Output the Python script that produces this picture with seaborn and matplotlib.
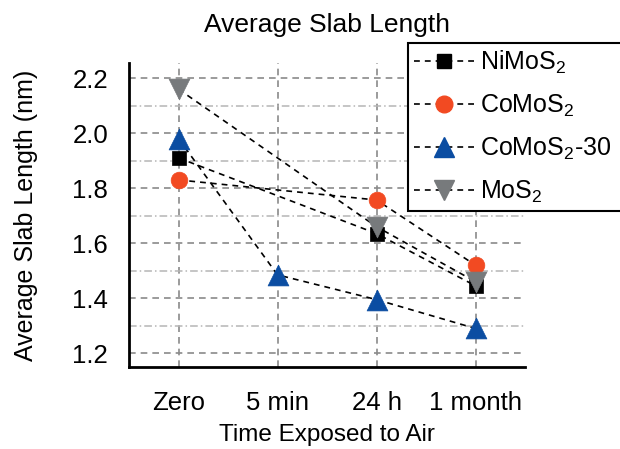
import numpy as np
import pandas as pd
import matplotlib
matplotlib.use("Agg")
import matplotlib.pyplot as plt
from matplotlib.lines import Line2D
from matplotlib.ticker import MultipleLocator
import seaborn as sns

# ---- data ----
categories = ["Zero", "5 min", "24 h", "1 month"]
series_names = ["NiMoS2", "CoMoS2", "CoMoS2-30", "MoS2"]
legend_labels = [r"$\mathregular{NiMoS_2}$", r"$\mathregular{CoMoS_2}$",
                 r"$\mathregular{CoMoS_2}$-30", r"$\mathregular{MoS_2}$"]
nimos2 = [1.91, np.nan, 1.635, 1.445]
comos2 = [1.83, np.nan, 1.757, 1.52]
comos2_30 = [1.98, 1.485, 1.395, 1.29]
mos2 = [2.16, np.nan, 1.66, 1.46]
colors = ["#000000", "#F24A22", "#0B4DA2", "#777A7C"]
markers = ["s", "o", "^", "v"]
msizes = [10.5, 12, 15, 15]

values = [nimos2, comos2, comos2_30, mos2]
rows = []
for name, vals in zip(series_names, values):
    for i, (cat, v) in enumerate(zip(categories, vals)):
        if not np.isnan(v):
            rows.append({"series": name, "time": cat, "pos": i, "length": v})
df = pd.DataFrame(rows)

sns.set_style("white")
plt.rcParams["font.family"] = ["Liberation Sans", "DejaVu Sans"]
plt.rcParams["mathtext.fontset"] = "custom"
plt.rcParams["mathtext.rm"] = "Liberation Sans"
plt.rcParams["text.color"] = "black"
plt.rcParams["axes.labelcolor"] = "black"
plt.rcParams["xtick.color"] = "black"
plt.rcParams["ytick.color"] = "black"

fig = plt.figure(figsize=(6.2, 4.49), dpi=100)
ax = fig.add_axes([129 / 620, 1 - 367 / 449, (525 - 129) / 620, (367 - 63) / 449])

# dashed black connecting lines
sns.lineplot(data=df, x="pos", y="length", units="series", estimator=None,
             color="black", linestyle=(0, (3.5, 3)), linewidth=1.2, ax=ax,
             sort=True, legend=False, zorder=3)

# colored markers
for name, c, m, ms in zip(series_names, colors, markers, msizes):
    sub = df[df["series"] == name]
    sns.scatterplot(data=sub, x="pos", y="length", color=c, marker=m,
                    s=ms ** 2, edgecolor=c, linewidth=0.5, ax=ax, zorder=4,
                    legend=False)

ax.set_xlim(-0.5, 3.5)
ax.set_ylim(1.15, 2.255)
ax.set_xticks(range(len(categories)))
ax.set_xticklabels(categories)
ax.yaxis.set_major_locator(MultipleLocator(0.2))
ax.yaxis.set_minor_locator(MultipleLocator(0.1))
ax.yaxis.set_major_formatter(matplotlib.ticker.FormatStrFormatter("%.1f"))

ax.grid(True, which="major", axis="y", color="#8a8a8a", linestyle=(0, (4, 3)), linewidth=1.2, zorder=0)
ax.grid(True, which="minor", axis="y", color="#b5b5b5", linestyle=(0, (5, 2, 1, 2)), linewidth=1.1, zorder=0)
ax.grid(True, which="major", axis="x", color="#8a8a8a", linestyle=(0, (4, 3)), linewidth=1.2, zorder=0)
ax.set_axisbelow(True)

for s in ["top", "right"]:
    ax.spines[s].set_visible(False)
for s in ["left", "bottom"]:
    ax.spines[s].set_linewidth(2)
    ax.spines[s].set_color("black")

ax.tick_params(axis="both", which="major", direction="out", length=9, width=2,
               labelsize=18.5, color="black", labelcolor="black")
ax.tick_params(axis="x", pad=8)
ax.tick_params(axis="y", pad=6)
ax.tick_params(axis="y", which="minor", direction="out", length=4.5, width=2, color="black")
ax.tick_params(axis="x", which="minor", bottom=False)

ax.set_xlabel("Time Exposed to Air", fontsize=17.5, labelpad=7, color="black")
ax.set_ylabel("Average Slab Length (nm)", fontsize=18, labelpad=25, color="black")
ax.set_title("Average Slab Length", fontsize=19, pad=22, color="black")

handles = [Line2D([0], [0], color="black", linestyle=(0, (3.5, 3)), linewidth=1.2,
                  marker=m, markersize=ms, markerfacecolor=c, markeredgecolor=c)
           for c, m, ms in zip(colors, markers, msizes)]
leg_top = 1 - 43 / 449
leg = fig.legend(handles, legend_labels, loc="upper left",
                 bbox_to_anchor=(408 / 620, leg_top - 0.5, (650 - 408) / 620, 0.5),
                 bbox_transform=fig.transFigure, mode="expand",
                 fontsize=18, frameon=True, fancybox=False, shadow=False,
                 borderaxespad=0, borderpad=0.22, handlelength=2.4, handletextpad=0.25,
                 labelspacing=0.68)
for t in leg.get_texts():
    t.set_color("black")
leg.get_frame().set_edgecolor("black")
leg.get_frame().set_linewidth(1.5)
leg.get_frame().set_facecolor("white")
leg.get_frame().set_alpha(1)

fig.savefig("out.png", dpi=100)
